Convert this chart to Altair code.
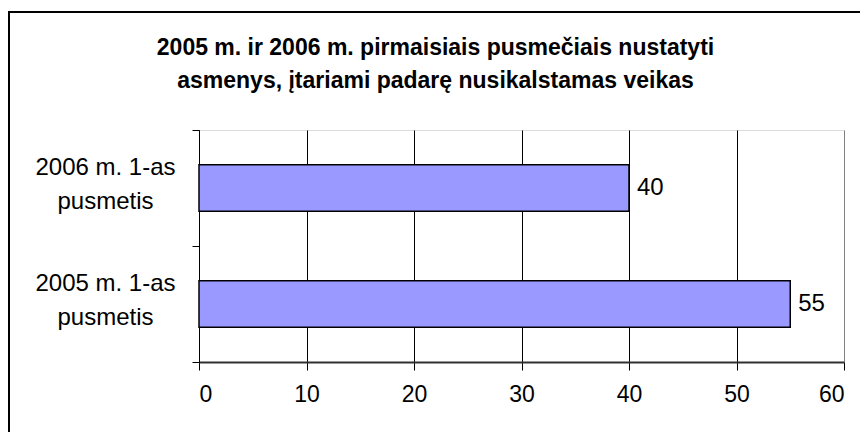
import altair as alt
import pandas as pd

categories = ["2006 m. 1-as\npusmetis", "2005 m. 1-as\npusmetis"]
values = [40, 55]
x_ticks = [0, 10, 20, 30, 40, 50, 60]
title_lines = [
    "2005 m. ir 2006 m. pirmaisiais pusmečiais nustatyti",
    "asmenys, įtariami padarę nusikalstamas veikas",
]

df = pd.DataFrame({"period": categories, "value": values})
FONT = "Liberation Sans"

x_enc = alt.X(
    "value:Q",
    scale=alt.Scale(domain=[0, 60], nice=False),
    axis=alt.Axis(
        values=x_ticks,
        title=None,
        grid=True,
        gridColor=alt.condition("datum.value == 60", alt.value("#808080"), alt.value("#000000")),
        gridWidth=1,
        domainColor="#303030",
        domainWidth=2,
        tickColor="#000000",
        tickSize=8,
        labelFontSize=23,
        labelFont=FONT,
        labelColor="#000000",
        labelPadding=13,
    ),
)
y_enc = alt.Y(
    "period:N",
    sort=categories,
    scale=alt.Scale(paddingInner=0, paddingOuter=0),
    axis=alt.Axis(
        title=None,
        grid=False,
        domainColor="#000000",
        domainWidth=1,
        tickColor="#000000",
        tickSize=7,
        tickBand="extent",
        labelExpr="split(datum.label, '\\n')",
        labelAlign="center",
        labelBaseline="middle",
        labelOffset=-21,
        labelPadding=87,
        labelFontSize=24,
        labelFont=FONT,
        labelColor="#000000",
        labelLineHeight=34,
    ),
)

bars = alt.Chart(df).mark_bar(
    color="#9999FF", stroke="#000000", strokeWidth=1.5,
    height=alt.RelativeBandSize(0.4),
).encode(x=x_enc, y=y_enc)

labels = alt.Chart(df).mark_text(
    align="left", baseline="middle", dx=8, fontSize=24, font=FONT, color="#000000"
).encode(x="value:Q", y=alt.Y("period:N", sort=categories), text="value:Q")

frame_left = alt.Chart(df).mark_rule(color="#000000", strokeWidth=2).encode(
    x=alt.value(-190), y=alt.value(-119), y2=alt.value(320)
)
frame_top = alt.Chart(df).mark_rule(color="#000000", strokeWidth=2).encode(
    x=alt.value(-191), x2=alt.value(680), y=alt.value(-118)
)

chart = (
    alt.layer(bars, labels, frame_left, frame_top)
    .properties(
        width=645,
        height=232,
        autosize=alt.AutoSizeParams(type="none"),
        padding={"left": 191, "top": 122, "right": 16, "bottom": 70},
        title=alt.TitleParams(
            text=title_lines,
            font=FONT,
            fontSize=23,
            fontWeight="bold",
            color="#000000",
            anchor="middle",
            frame="group",
            dx=-86,
            offset=-83,
            lineHeight=33,
        ),
    )
    .configure_view(stroke="#808080", strokeWidth=1.5)
    .configure(background="#FFFFFF")
)

chart.save("out.html", embed_options={"renderer": "svg", "actions": False})
